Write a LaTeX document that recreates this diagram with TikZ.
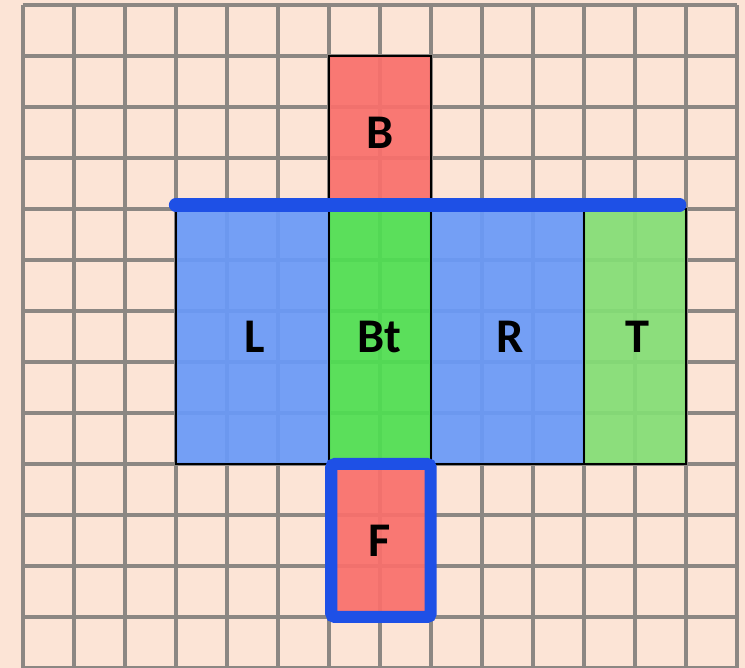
\documentclass[tikz,border=0pt]{standalone}
\usepackage{fontspec}
\setmainfont{Carlito}
\usepackage{tikz}
\usetikzlibrary{positioning}

\definecolor{paper}{HTML}{FCE4D6}
\definecolor{gridgray}{HTML}{8C8783}
\definecolor{faceblue}{HTML}{6A9AF8}
\definecolor{facegreen}{HTML}{4FDF52}
\definecolor{facelight}{HTML}{84DE76}
\definecolor{facered}{HTML}{F9706C}
\definecolor{edgeblue}{HTML}{1E50E6}

\begin{document}
\begin{tikzpicture}[
    face/.style={draw=black, line width=1.3pt, fill opacity=0.93, draw opacity=1},
    lbl/.style={font=\fontsize{27}{30}\selectfont\bfseries, text=black}
  ]
    \useasboundingbox (-0.445,0) rectangle (14.163,13.098);
    \fill[paper] (-0.445,0) rectangle (14.163,13.098);
    \draw[gridgray, line width=2.3pt] (0,0) grid (14,13);
    % the net of the box
    \filldraw[face, fill=faceblue] (3,4) rectangle (6,9);
    \filldraw[face, fill=facegreen] (6,4) rectangle (8,9);
    \filldraw[face, fill=faceblue] (8,4) rectangle (11,9);
    \filldraw[face, fill=facelight] (11,4) rectangle (13,9);
    \filldraw[face, fill=facered] (6,9) rectangle (8,12);
    \fill[facered, fill opacity=0.93] (6,1) rectangle (8,4);
    \draw[edgeblue, line width=6.7pt, rounded corners=2pt] (6.05,1) rectangle (8,4);
    \draw[edgeblue, line width=7.6pt, line cap=round] (3,9.08) -- (12.88,9.08);
    \node[lbl] (lblB) at (7,10.5) {B};
    \node[lbl] (lblL) at (4.55,6.5) {L};
    \node[lbl] (lblBt) at (7,6.5) {Bt};
    \node[lbl] (lblR) at (9.55,6.5) {R};
    \node[lbl] (lblT) at (12.05,6.5) {T};
    \node[lbl] (lblF) at (7,2.5) {F};
  \end{tikzpicture}
\end{document}
